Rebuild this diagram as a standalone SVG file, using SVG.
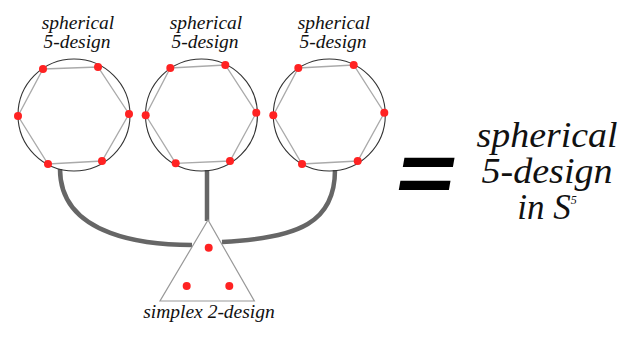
<svg xmlns="http://www.w3.org/2000/svg" width="629" height="339" viewBox="0 0 629 339">
<style>
.circ{fill:none;stroke:#333;stroke-width:1.1}
.hex{fill:none;stroke:#aaa;stroke-width:1.3}
.dot{fill:#f22}
.conn{fill:none;stroke:#666;stroke-width:4.5}
.lbl{font-family:'Liberation Serif','DejaVu Serif',serif;font-style:italic;fill:#111;text-anchor:middle}
.sm{font-size:19.5px}
.big{font-size:35px}
</style>
<rect width="629" height="339" fill="#fff"/>
<g id="connectors">
<path class="conn" d="M60,169 C60,238 150,245 192,245"/>
<path class="conn" d="M207,170 L207,221"/>
<path class="conn" d="M222,242 C300,238 335,222 335,170"/>
</g>
<g id="sphere1">
<text class="lbl sm" x="78" y="29">spherical</text>
<text class="lbl sm" x="77" y="48">5-design</text>
<circle class="circ" cx="74" cy="115" r="56"/>
<polygon class="hex" points="43,69 98,67 129,114 102,161 48,164 18,116"/>
<circle class="dot" cx="43" cy="69" r="4"/><circle class="dot" cx="98" cy="67" r="4"/><circle class="dot" cx="129" cy="114" r="4"/><circle class="dot" cx="102" cy="161" r="4"/><circle class="dot" cx="48" cy="164" r="4"/><circle class="dot" cx="18" cy="116" r="4"/>
</g>
<g id="sphere2">
<text class="lbl sm" x="206" y="29">spherical</text>
<text class="lbl sm" x="205" y="48">5-design</text>
<circle class="circ" cx="201.5" cy="115" r="56"/>
<polygon class="hex" points="170.3,68 225.3,65 256.3,112.7 230,161 175.7,163.3 145.7,115.3"/>
<circle class="dot" cx="170.3" cy="68" r="4"/><circle class="dot" cx="225.3" cy="65" r="4"/><circle class="dot" cx="256.3" cy="112.7" r="4"/><circle class="dot" cx="230" cy="161" r="4"/><circle class="dot" cx="175.7" cy="163.3" r="4"/><circle class="dot" cx="145.7" cy="115.3" r="4"/>
</g>
<g id="sphere3">
<text class="lbl sm" x="334" y="29">spherical</text>
<text class="lbl sm" x="333" y="48">5-design</text>
<circle class="circ" cx="329.3" cy="115" r="56"/>
<polygon class="hex" points="298.3,68 353.7,65 384.3,112.7 357.7,161 302,164 273.3,115.3"/>
<circle class="dot" cx="298.3" cy="68" r="4"/><circle class="dot" cx="353.7" cy="65" r="4"/><circle class="dot" cx="384.3" cy="112.7" r="4"/><circle class="dot" cx="357.7" cy="161" r="4"/><circle class="dot" cx="302" cy="164" r="4"/><circle class="dot" cx="273.3" cy="115.3" r="4"/>
</g>
<g id="simplex">
<polygon points="208,220 160,301 254.3,301" fill="#fff" stroke="#999" stroke-width="1.2"/>
<circle class="dot" cx="208.7" cy="247.7" r="4"/><circle class="dot" cx="186.7" cy="286" r="4"/><circle class="dot" cx="229.3" cy="286" r="4"/>
<text class="lbl sm" x="209" y="318">simplex 2-design</text>
</g>
<g id="equals">
<text x="426" y="206" font-family="Liberation Sans, sans-serif" font-weight="bold" font-size="100" text-anchor="middle" fill="#000" transform="translate(426 177) skewX(-10) scale(1 0.85) translate(-426 -177)">=</text>
</g>
<g id="result">
<text class="lbl big" x="547" y="147" textLength="141" lengthAdjust="spacingAndGlyphs">spherical</text>
<text class="lbl big" x="547" y="183" textLength="131" lengthAdjust="spacingAndGlyphs">5-design</text>
<text class="lbl big" x="547" y="219">in S<tspan font-size="12" dy="-15">5</tspan></text>
</g>
</svg>
